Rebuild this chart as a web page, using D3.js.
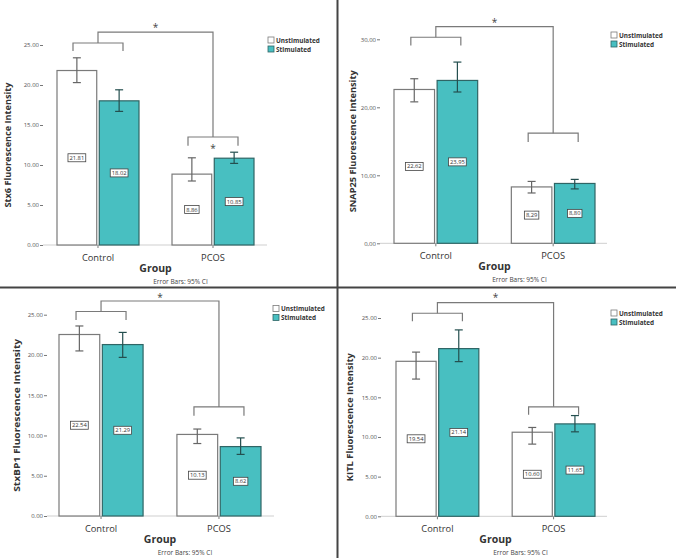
<!DOCTYPE html>
<html>
<head>
<meta charset="utf-8">
<script src="https://cdn.jsdelivr.net/npm/d3@7"></script>
<style>
  body { margin: 0; background: #fff; }
  text { font-family: "Open Sans", "Liberation Sans", sans-serif; }
</style>
</head>
<body>
<svg id="chart" width="676" height="558"></svg>
<script>
const groups = ["Control", "PCOS"];
const series = ["Unstimulated", "Stimulated"];

// means / 95% CI, rows = group, cols = series
const stx6Means = [[21.81, 18.02], [8.86, 10.85]];
const stx6Lo = [[20.3, 16.7], [8.0, 10.2]];
const stx6Hi = [[23.4, 19.4], [10.9, 11.6]];

const snap25Means = [[22.62, 23.95], [8.29, 8.80]];
const snap25Lo = [[20.8, 22.25], [7.4, 8.0]];
const snap25Hi = [[24.2, 26.65], [9.1, 9.4]];

const stxbp1Means = [[22.54, 21.29], [10.13, 8.62]];
const stxbp1Lo = [[20.5, 19.7], [9.0, 7.65]];
const stxbp1Hi = [[23.6, 22.8], [10.8, 9.7]];

const kitlMeans = [[19.54, 21.14], [10.60, 11.65]];
const kitlLo = [[17.3, 19.5], [9.1, 10.65]];
const kitlHi = [[20.7, 23.5], [11.2, 12.7]];

const ticks25 = [0, 5, 10, 15, 20, 25];
const ticks30 = [0, 10, 20, 30];

// significance brackets (value units): control bar, control legs, top line, pcos bar, pcos legs, star
const stx6Brackets = [25.25, 24.25, 26.6, 13.5, 12.4, 27.5];
const snap25Brackets = [30.3, 29.1, 31.85, 16.2, 14.9, 32.9];
const stxbp1Brackets = [25.4, 24.35, 26.7, 13.55, 12.45, 27.5];
const kitlBrackets = [25.6, 24.6, 26.95, 13.8, 12.8, 27.9];

const fmtDot = d3.format(".2f");
const fmtComma = v => d3.format(".2f")(v).replace(".", ",");

const panels = [
  { label: "Stx6 Fluorescence Intensity", means: stx6Means, lo: stx6Lo, hi: stx6Hi,
    ticks: ticks25, ymax: 25, fmt: fmtDot, br: stx6Brackets, star2: 12.4, labLen: 125,
    ox: 0, oy: 0, axisX: 43, bx: [57, 254], baseEnd: 267, yr: [245, 45], labX: 7, leg: [268, 40] },
  { label: "SNAP25 Fluorescence Intensity", means: snap25Means, lo: snap25Lo, hi: snap25Hi,
    ticks: ticks30, ymax: 30, fmt: fmtComma, br: snap25Brackets, star2: null, labLen: 142,
    ox: 338, oy: 0, axisX: 42, bx: [56, 257], baseEnd: 269, yr: [243.3, 39.3], labX: 14, leg: [273, 35] },
  { label: "StxBP1 Fluorescence Intensity", means: stxbp1Means, lo: stxbp1Lo, hi: stxbp1Hi,
    ticks: ticks25, ymax: 25, fmt: fmtDot, br: stxbp1Brackets, star2: null, labLen: 153,
    ox: 0, oy: 279, axisX: 47, bx: [59, 261], baseEnd: 274, yr: [237, 35.7], labX: 16, leg: [273, 29.5] },
  { label: "KITL Fluorescence Intensity", means: kitlMeans, lo: kitlLo, hi: kitlHi,
    ticks: ticks25, ymax: 25, fmt: fmtDot, br: kitlBrackets, star2: null, labLen: 128,
    ox: 338, oy: 279, axisX: 43, bx: [58, 257], baseEnd: 269, yr: [237.3, 39], labX: 11, leg: [273, 34] }
];

const fills = ["#ffffff", "#48bfc1"];
const strokes = ["#7a7a7a", "#2f6565"];
const errColors = ["#666666", "#244f4f"];

const svg = d3.select("#chart");

panels.forEach(p => {
  const g = svg.append("g").attr("transform", `translate(${p.ox},${p.oy})`);

  const y = d3.scaleLinear().domain([0, p.ymax]).range(p.yr);
  const x0 = d3.scaleBand().domain(groups).range(p.bx).paddingInner(0.287).paddingOuter(0);
  const x1 = d3.scaleBand().domain(series).range([0, x0.bandwidth()]).paddingInner(0.06);

  // y axis ticks (no domain line)
  const yAxis = g.append("g")
    .attr("transform", `translate(${p.axisX},0)`)
    .call(d3.axisLeft(y).tickValues(p.ticks).tickFormat(p.fmt).tickSize(3).tickPadding(1));
  yAxis.select(".domain").remove();
  yAxis.selectAll(".tick line").attr("stroke", "#777");
  yAxis.selectAll(".tick text").attr("font-size", 6).attr("fill", "#555")
    .attr("font-family", "'Liberation Sans', sans-serif");

  // baseline
  g.append("line")
    .attr("x1", p.axisX).attr("x2", p.baseEnd)
    .attr("y1", y(0)).attr("y2", y(0))
    .attr("stroke", "#cfcfcf").attr("stroke-width", 1);

  // category ticks
  g.selectAll(".cat-tick")
    .data(groups)
    .enter().append("line")
    .attr("x1", d => x0(d) + x0.bandwidth() / 2)
    .attr("x2", d => x0(d) + x0.bandwidth() / 2)
    .attr("y1", y(0)).attr("y2", y(0) + 3)
    .attr("stroke", "#777");

  // bars
  const cells = [];
  groups.forEach((grp, i) => series.forEach((s, j) => {
    cells.push({ grp, s, j, v: p.means[i][j], lo: p.lo[i][j], hi: p.hi[i][j] });
  }));

  g.selectAll(".bar")
    .data(cells)
    .enter().append("rect")
    .attr("x", d => x0(d.grp) + x1(d.s))
    .attr("y", d => y(d.v))
    .attr("width", x1.bandwidth())
    .attr("height", d => y(0) - y(d.v))
    .attr("fill", d => fills[d.j])
    .attr("stroke", d => strokes[d.j])
    .attr("stroke-width", 1.2);

  // error bars
  const cx = d => x0(d.grp) + x1(d.s) + x1.bandwidth() / 2;
  const eb = g.selectAll(".err").data(cells).enter().append("g")
    .attr("stroke", d => errColors[d.j]).attr("stroke-width", 1.2);
  eb.append("line").attr("x1", cx).attr("x2", cx).attr("y1", d => y(d.lo)).attr("y2", d => y(d.hi));
  eb.append("line").attr("x1", d => cx(d) - 4).attr("x2", d => cx(d) + 4).attr("y1", d => y(d.hi)).attr("y2", d => y(d.hi));
  eb.append("line").attr("x1", d => cx(d) - 4).attr("x2", d => cx(d) + 4).attr("y1", d => y(d.lo)).attr("y2", d => y(d.lo));

  // value labels in boxes at half height
  cells.forEach(d => {
    const lg = g.append("g");
    const t = lg.append("text")
      .attr("x", cx(d)).attr("y", y(d.v / 2))
      .attr("text-anchor", "middle").attr("dominant-baseline", "central")
      .attr("font-size", 5.8).attr("fill", "#333")
      .attr("font-family", "'Liberation Sans', sans-serif")
      .text(p.fmt(d.v));
    const w = t.node().getComputedTextLength();
    lg.insert("rect", "text")
      .attr("x", cx(d) - w / 2 - 1.5).attr("y", y(d.v / 2) - 4)
      .attr("width", w + 3).attr("height", 8)
      .attr("fill", "#fff").attr("stroke", "#444").attr("stroke-width", 0.8);
  });

  // significance brackets
  const gc = grp => x0(grp) + x0.bandwidth() / 2;
  const [cBar, cLeg, top, pBar, pLeg, starV] = p.br;
  const bk = g.append("g").attr("fill", "none").attr("stroke", "#7a7a7a").attr("stroke-width", 1.2);
  const line = d3.line();
  bk.append("path").attr("d", line([
    [gc("Control") - 25, y(cLeg)], [gc("Control") - 25, y(cBar)],
    [gc("Control") + 25, y(cBar)], [gc("Control") + 25, y(cLeg)]]));
  bk.append("path").attr("d", line([
    [gc("PCOS") - 25, y(pLeg)], [gc("PCOS") - 25, y(pBar)],
    [gc("PCOS") + 25, y(pBar)], [gc("PCOS") + 25, y(pLeg)]]));
  bk.append("path").attr("d", line([
    [gc("Control"), y(cBar)], [gc("Control"), y(top)],
    [gc("PCOS"), y(top)], [gc("PCOS"), y(pBar)]]));

  g.append("text")
    .attr("x", (gc("Control") + gc("PCOS")) / 2).attr("y", y(starV) + 6)
    .attr("text-anchor", "middle").attr("font-size", 10).attr("fill", "#444")
    .text("*");
  if (p.star2 !== null) {
    g.append("text")
      .attr("x", gc("PCOS")).attr("y", y(p.star2) + 6)
      .attr("text-anchor", "middle").attr("font-size", 10).attr("fill", "#444")
      .text("*");
  }

  // category labels
  g.selectAll(".cat")
    .data(groups)
    .enter().append("text")
    .attr("x", d => gc(d)).attr("y", y(0) + 12)
    .attr("text-anchor", "middle").attr("dominant-baseline", "central")
    .attr("font-size", 9.3).attr("fill", "#333")
    .text(d => d);

  const mid = (p.bx[0] + p.bx[1]) / 2;
  g.append("text")
    .attr("x", mid).attr("y", y(0) + 22.5)
    .attr("text-anchor", "middle").attr("dominant-baseline", "central")
    .attr("font-size", 10.5).attr("font-weight", "bold").attr("fill", "#333")
    .text("Group");

  g.append("text")
    .attr("x", mid + 25).attr("y", y(0) + 36)
    .attr("text-anchor", "middle").attr("dominant-baseline", "central")
    .attr("font-size", 6.5).attr("fill", "#444")
    .attr("font-family", "'Liberation Sans', sans-serif")
    .text("Error Bars: 95% CI");

  // y axis title
  g.append("text")
    .attr("transform", `translate(${p.labX},${(p.yr[0] + p.yr[1]) / 2}) rotate(-90)`)
    .attr("text-anchor", "middle").attr("dominant-baseline", "central")
    .attr("font-size", 9).attr("font-weight", "bold").attr("fill", "#333")
    .attr("textLength", p.labLen).attr("lengthAdjust", "spacingAndGlyphs")
    .text(p.label);

  // legend
  const lgd = g.append("g").attr("transform", `translate(${p.leg[0]},${p.leg[1]})`);
  series.forEach((s, j) => {
    lgd.append("rect")
      .attr("x", 0).attr("y", j * 9 - 3).attr("width", 6).attr("height", 6)
      .attr("fill", fills[j]).attr("stroke", strokes[j]).attr("stroke-width", 0.8);
    lgd.append("text")
      .attr("x", 8).attr("y", j * 9)
      .attr("dominant-baseline", "central")
      .attr("font-size", 6.4).attr("font-weight", "bold").attr("fill", "#333")
      .text(s);
  });
});

// panel dividers
svg.append("line").attr("x1", 337.5).attr("x2", 337.5).attr("y1", 0).attr("y2", 558)
  .attr("stroke", "#444").attr("stroke-width", 2);
svg.append("line").attr("x1", 0).attr("x2", 676).attr("y1", 287.5).attr("y2", 287.5)
  .attr("stroke", "#444").attr("stroke-width", 2);
</script>
</body>
</html>
